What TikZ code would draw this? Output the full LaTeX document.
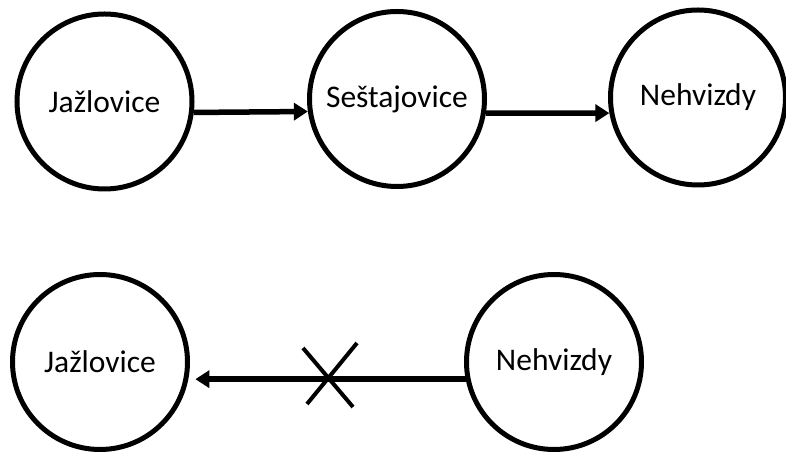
\documentclass[tikz,border=0pt]{standalone}
\usepackage{fontspec}
\setmainfont{Carlito}
\usetikzlibrary{arrows.meta,calc}
\begin{document}
\begin{tikzpicture}[x=1pt,y=1pt,
  town/.style={circle,draw=black,line width=5pt,minimum size=175pt,inner sep=0pt,font=\fontsize{31.5}{36}\selectfont},
  link/.style={line width=5.5pt,-{Triangle[length=14pt,width=17pt]}},
  crossmark/.style={line width=4pt}]
\useasboundingbox (0,0) rectangle (786,454);
\node[town] (j1) at (104.5,352.5) {Jažlovice};
\node[town] (s)  at (397,355) {Seštajovice};
\node[town] (n1) at (698,356.5) {Nehvizdy};
\node[town] (j2) at (100,92) {Jažlovice};
\node[town] (n2) at (554,92) {Nehvizdy};
\draw[link] (j1.-7) -- (s.188);
\draw[link] (s.-9) -- (n1.190);
\draw[link,shorten >=7pt] (n2.191) -- (j2.-11);
\coordinate (x) at (330,75);
\draw[crossmark] ($(x)+(-27,31)$) -- ($(x)+(23,-28)$);
\draw[crossmark] ($(x)+(27,36)$) -- ($(x)+(-23,-25)$);
\end{tikzpicture}
\end{document}
